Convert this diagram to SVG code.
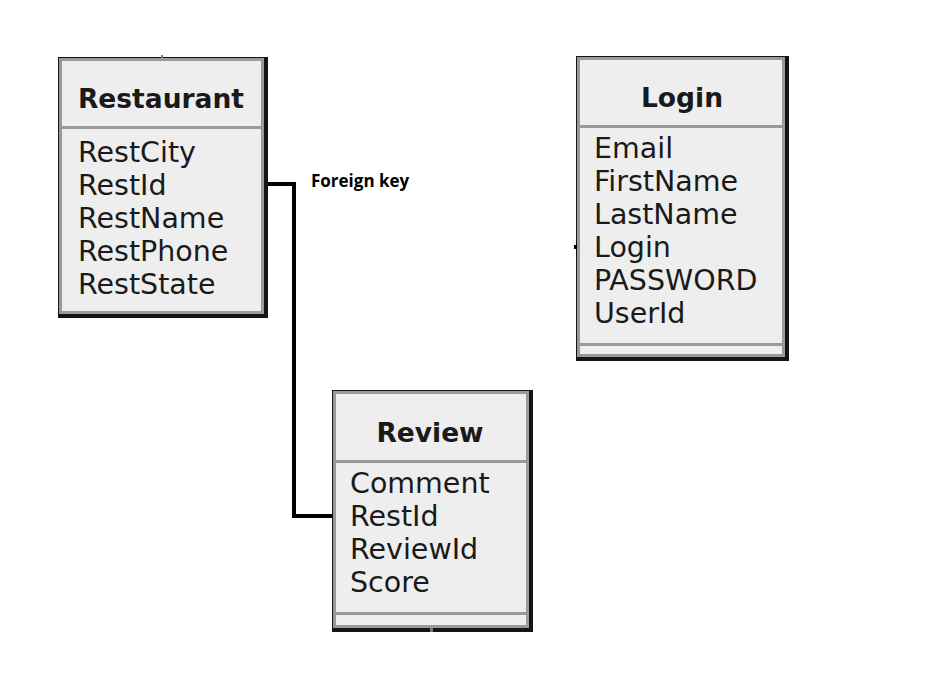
<svg xmlns="http://www.w3.org/2000/svg" width="925" height="677" viewBox="0 0 925 677">
<style>
.shadow{fill:#151515}
.border{fill:#9a9a9a}
.fill{fill:#eeeeee}
.sep{fill:#9a9a9a}
.title{font-family:"DejaVu Sans",sans-serif;font-weight:bold;font-size:26.5px;fill:#1a1a1a;text-anchor:middle}
.attr{font-family:"DejaVu Sans",sans-serif;font-size:28.5px;fill:#1a1a1a}
.label{font-family:"Open Sans","Liberation Sans",sans-serif;font-weight:bold;font-size:17px;fill:#000}
.conn{fill:none;stroke:#000;stroke-width:4}
.tick{fill:#777}
</style>
<rect width="925" height="677" fill="#ffffff"/>
<g id="connectors">
<path class="conn" d="M265,184 H294 V516 H334"/>
<text class="label" x="311" y="187">Foreign key</text>
</g>
<g id="restaurant">
<rect class="shadow" x="58" y="57" width="210" height="261"/>
<rect class="border" x="59" y="58" width="205" height="256"/>
<rect class="fill" x="62" y="61" width="199" height="250"/>
<rect class="sep" x="62" y="126" width="199" height="3"/>
<rect class="tick" x="161" y="55" width="2" height="3"/>
<text class="title" x="161" y="108">Restaurant</text>
<text class="attr" x="78" y="162">RestCity</text>
<text class="attr" x="78" y="195">RestId</text>
<text class="attr" x="78" y="228">RestName</text>
<text class="attr" x="78" y="261">RestPhone</text>
<text class="attr" x="78" y="294">RestState</text>
</g>
<g id="login">
<rect class="shadow" x="576" y="56" width="213" height="305"/>
<rect class="border" x="577" y="57" width="208" height="300"/>
<rect class="fill" x="580" y="60" width="202" height="294"/>
<rect class="sep" x="580" y="125" width="202" height="3"/>
<rect class="sep" x="580" y="343" width="202" height="3"/>
<rect fill="#000" x="574" y="245" width="3" height="4"/>
<text class="title" x="682" y="107">Login</text>
<text class="attr" x="594" y="158">Email</text>
<text class="attr" x="594" y="191">FirstName</text>
<text class="attr" x="594" y="224">LastName</text>
<text class="attr" x="594" y="257">Login</text>
<text class="attr" x="594" y="290">PASSWORD</text>
<text class="attr" x="594" y="323">UserId</text>
</g>
<g id="review">
<rect class="shadow" x="332" y="390" width="201" height="242"/>
<rect class="border" x="333" y="391" width="196" height="237"/>
<rect class="fill" x="336" y="394" width="190" height="231"/>
<rect class="sep" x="336" y="460" width="190" height="3"/>
<rect class="sep" x="336" y="612" width="190" height="3"/>
<rect class="tick" x="430" y="628" width="3" height="4"/>
<text class="title" x="430" y="442">Review</text>
<text class="attr" x="350" y="493">Comment</text>
<text class="attr" x="350" y="526">RestId</text>
<text class="attr" x="350" y="559">ReviewId</text>
<text class="attr" x="350" y="592">Score</text>
</g>
</svg>
